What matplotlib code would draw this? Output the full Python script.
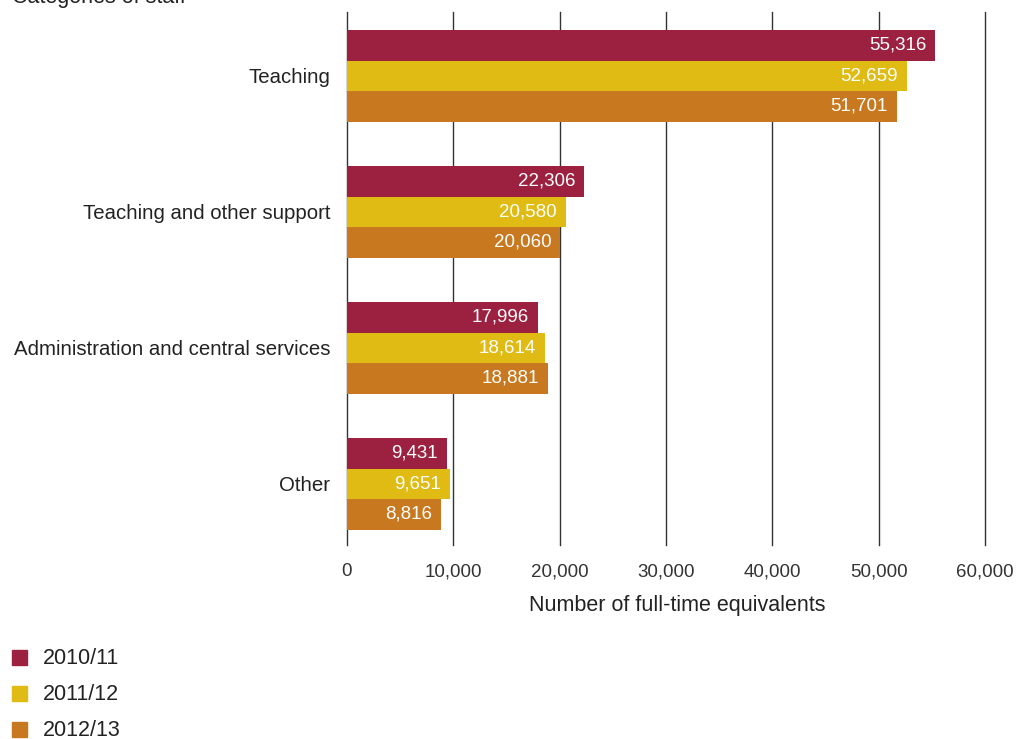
import numpy as np
import matplotlib.pyplot as plt
from matplotlib.patches import Rectangle

# staff categories and FTE per academic year
categories = ["Teaching", "Teaching and other support",
              "Administration and central services", "Other"]
years = ["2010/11", "2011/12", "2012/13"]
fte_2010 = [55316, 22306, 17996, 9431]
fte_2011 = [52659, 20580, 18614, 9651]
fte_2012 = [51701, 20060, 18881, 8816]
xticks = [0, 10000, 20000, 30000, 40000, 50000, 60000]

colors = ["#9C2140", "#DFBB14", "#C8781F"]
plt.rcParams['font.family'] = ['Liberation Sans', 'DejaVu Sans']
txt = "#222222"

W, H = 1017, 739
fig = plt.figure(figsize=(W / 100, H / 100), dpi=100)
ax = fig.add_axes([347 / W, 1 - 545 / H, (985 - 347) / W, (545 - 12) / H])

y = np.arange(len(categories))
h = 0.224
series = [fte_2010, fte_2011, fte_2012]
for i, (vals, col) in enumerate(zip(series, colors)):
    pos = y + (i - 1) * h
    ax.barh(pos, vals, height=h, color=col, zorder=3)
    for p, v in zip(pos, vals):
        ax.text(v - 850, p, f"{v:,}", color="white", ha="right", va="center",
                fontsize=13.5, zorder=4)

ax.set_xlim(0, 60000)
ax.set_ylim(3.449, -0.47)
ax.set_xticks(xticks)
ax.set_xticklabels(["0" if t == 0 else f"{t:,}" for t in xticks],
                   fontsize=13.5, color="#333333")
ax.set_yticks(y)
ax.set_yticklabels(categories, fontsize=14.7, color=txt)
ax.tick_params(axis="y", length=0, pad=12)
ax.tick_params(axis="x", length=0, pad=13)
for s in ax.spines.values():
    s.set_visible(False)
ax.grid(axis="x", color="#333333", linewidth=1, zorder=0)
ax.grid(axis="y", visible=False)
for gl in ax.get_xgridlines():
    gl.set_clip_on(False)

fig.text(677 / W, 1 - 606 / H, "Number of full-time equivalents",
         ha="center", va="center", fontsize=15.5, color=txt)
fig.text(12 / W, 1 - 3 / H, "Categories of staff", ha="left",
         va="baseline", fontsize=15.5, color=txt)

# legend drawn by hand, one row per year
for k, (c, yr) in enumerate(zip(colors, years)):
    yc = 657 + 36 * k
    fig.add_artist(Rectangle((12 / W, 1 - (yc + 7.5) / H), 15 / W, 15 / H,
                             transform=fig.transFigure, color=c))
    fig.text(43 / W, 1 - (yc + 1) / H, yr, ha="left", va="center",
             fontsize=15.5, color=txt)

fig.savefig("out.png", dpi=100)
